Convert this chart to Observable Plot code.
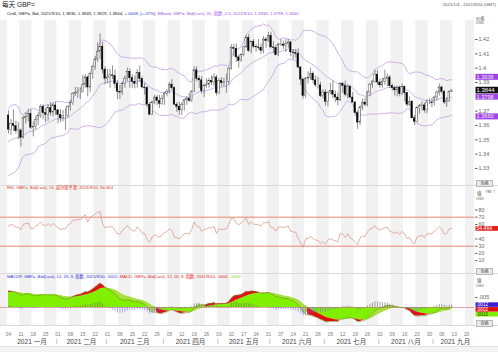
<!DOCTYPE html>
<html><head><meta charset="utf-8">
<script src="https://cdn.jsdelivr.net/npm/d3@7"></script>
<script src="https://cdn.jsdelivr.net/npm/@observablehq/plot@0.6"></script>
<style>
body{margin:0;background:#fff;}
#root{position:relative;width:498px;height:352px;overflow:hidden;background:#fff;font-family:"Liberation Sans","Noto Sans CJK SC",sans-serif;}
.t{position:absolute;white-space:nowrap;line-height:1;}
.btn{position:absolute;left:476px;width:15px;height:5px;background:#e9e9e9;border:0.5px solid #b8b8b8;font-size:4px;line-height:5px;text-align:center;color:#444;}
.sep{position:absolute;left:0;width:498px;height:1px;background:#dadada;}
</style></head><body><div id="root"></div>
<script>
const titleText = "每天 GBP=";
const rangeText = "2021/1/4 - 2021/9/24 (GMT)";
const monthNames = ["一月","二月","三月","四月","五月","六月","七月","八月","九月"];
const priceTicks = [1.33,1.34,1.35,1.36,1.37,1.38,1.39,1.4,1.41,1.42];
const rsiTicks = [10,20,30,40,50,60,70,80];
const rsiUpper = 70, rsiLower = 30;
const macdTicks = [0.005];
const lastPrice = 1.3844;
const lastBands = [1.3936,1.3798,1.3660];
const lastRsi = 54.464;
const lastMacd = [0.0012,0.0002,0.0010];

// closes before the window (Oct 1 - Dec 31 2020), used to warm up indicators
const prior2020Close = [
1.2925,1.2935,1.2945,1.2935,1.2945,1.2950,1.3045,1.3040,1.2930,1.3040,1.2915,1.2915,1.2945,1.3050,1.3160,1.3065,1.3045,1.3035,1.3030,1.2965,1.2935,1.2945,
1.2945,1.3050,1.2990,1.3150,1.3150,1.3190,1.3270,1.3260,1.3125,1.3190,1.3190,1.3250,1.3250,1.3270,1.3285,1.3320,1.3350,1.3365,1.3340,1.3320,1.3340,
1.3390,1.3360,1.3470,1.3440,1.3385,1.3365,1.3355,1.3285,1.3230,1.3320,1.3450,1.3540,1.3580,1.3510,1.3445,1.3385,1.3495,1.3550,1.3550,1.3480,1.3500,1.3665,1.3670];

// [day, open, high, low, close]
const jan = [[4,1.3670,1.3703,1.3540,1.3570],[5,1.3570,1.3640,1.3530,1.3610],[6,1.3610,1.3710,1.3560,1.3595],[7,1.3595,1.3630,1.3540,1.3560],[8,1.3560,1.3620,1.3500,1.3565],
[11,1.3565,1.3575,1.3450,1.3515],[12,1.3515,1.3665,1.3505,1.3650],[13,1.3650,1.3690,1.3610,1.3660],[14,1.3660,1.3710,1.3625,1.3680],[15,1.3680,1.3710,1.3570,1.3585],
[18,1.3585,1.3625,1.3520,1.3590],[19,1.3590,1.3665,1.3570,1.3640],[20,1.3640,1.3690,1.3600,1.3665],[21,1.3665,1.3745,1.3650,1.3730],[22,1.3730,1.3745,1.3640,1.3685],
[25,1.3685,1.3720,1.3620,1.3675],[26,1.3675,1.3745,1.3630,1.3720],[27,1.3720,1.3760,1.3665,1.3690],[28,1.3690,1.3755,1.3660,1.3740],[29,1.3740,1.3760,1.3670,1.3705]];
const feb = [[1,1.3705,1.3715,1.3610,1.3675],[2,1.3675,1.3710,1.3620,1.3650],[3,1.3650,1.3705,1.3625,1.3665],[4,1.3665,1.3720,1.3565,1.3665],[5,1.3665,1.3740,1.3650,1.3730],
[8,1.3730,1.3775,1.3700,1.3755],[9,1.3755,1.3830,1.3740,1.3820],[10,1.3820,1.3865,1.3805,1.3825],[11,1.3825,1.3865,1.3790,1.3830],[12,1.3830,1.3865,1.3780,1.3830],
[15,1.3830,1.3950,1.3830,1.3885],[16,1.3885,1.3955,1.3860,1.3935],[17,1.3935,1.3945,1.3800,1.3865],[18,1.3865,1.3965,1.3830,1.3960],[19,1.3960,1.4015,1.3920,1.4010],
[22,1.4010,1.4080,1.3985,1.4060],[23,1.4060,1.4175,1.4040,1.4115],[24,1.4115,1.4240,1.4060,1.4150],[25,1.4150,1.4180,1.3960,1.3990],[26,1.3990,1.4010,1.3885,1.3925]];
const mar = [[1,1.3925,1.3990,1.3890,1.3935],[2,1.3935,1.3990,1.3860,1.3950],[3,1.3950,1.4015,1.3920,1.3945],[4,1.3945,1.3985,1.3855,1.3890],[5,1.3890,1.3915,1.3780,1.3835],
[8,1.3835,1.3880,1.3780,1.3830],[9,1.3830,1.3905,1.3810,1.3890],[10,1.3890,1.3945,1.3860,1.3925],[11,1.3925,1.4000,1.3905,1.3975],[12,1.3975,1.3995,1.3860,1.3930],
[15,1.3930,1.3955,1.3860,1.3905],[16,1.3905,1.3945,1.3855,1.3890],[17,1.3890,1.3990,1.3860,1.3965],[18,1.3965,1.4015,1.3900,1.3925],[19,1.3925,1.3940,1.3855,1.3865],
[22,1.3865,1.3895,1.3810,1.3860],[23,1.3860,1.3870,1.3730,1.3745],[24,1.3745,1.3760,1.3670,1.3675],[25,1.3675,1.3770,1.3670,1.3760],[26,1.3760,1.3810,1.3745,1.3795],
[29,1.3795,1.3810,1.3740,1.3770],[30,1.3770,1.3810,1.3720,1.3750],[31,1.3750,1.3810,1.3740,1.3785]];
const apr = [[1,1.3785,1.3830,1.3740,1.3820],[2,1.3820,1.3850,1.3800,1.3835],
[5,1.3835,1.3900,1.3820,1.3885],[6,1.3885,1.3920,1.3840,1.3860],[7,1.3860,1.3870,1.3740,1.3745],[8,1.3745,1.3760,1.3690,1.3730],[9,1.3730,1.3760,1.3670,1.3705],
[12,1.3705,1.3760,1.3670,1.3745],[13,1.3745,1.3785,1.3700,1.3775],[14,1.3775,1.3800,1.3740,1.3785],[15,1.3785,1.3825,1.3760,1.3770],[16,1.3770,1.3845,1.3760,1.3835],
[19,1.3835,1.4010,1.3830,1.3985],[20,1.3985,1.4010,1.3905,1.3925],[21,1.3925,1.3945,1.3860,1.3915],[22,1.3915,1.3940,1.3820,1.3840],[23,1.3840,1.3890,1.3795,1.3875],
[26,1.3875,1.3925,1.3860,1.3885],[27,1.3885,1.3930,1.3860,1.3910],[28,1.3910,1.3945,1.3880,1.3900],[29,1.3900,1.3960,1.3870,1.3935],[30,1.3935,1.3950,1.3805,1.3825]];
const may = [[3,1.3825,1.3925,1.3815,1.3910],[4,1.3910,1.3935,1.3870,1.3895],[5,1.3895,1.3930,1.3870,1.3905],[6,1.3905,1.3960,1.3825,1.3905],[7,1.3905,1.4010,1.3880,1.3995],
[10,1.3995,1.4165,1.3985,1.4140],[11,1.4140,1.4165,1.4080,1.4135],[12,1.4135,1.4170,1.4040,1.4075],[13,1.4075,1.4090,1.4000,1.4050],[14,1.4050,1.4100,1.4040,1.4090],
[17,1.4090,1.4150,1.4080,1.4145],[18,1.4145,1.4230,1.4140,1.4210],[19,1.4210,1.4235,1.4110,1.4120],[20,1.4120,1.4190,1.4100,1.4185],[21,1.4185,1.4200,1.4135,1.4150],
[24,1.4150,1.4165,1.4110,1.4145],[25,1.4145,1.4200,1.4125,1.4140],[26,1.4140,1.4170,1.4095,1.4120],[27,1.4120,1.4220,1.4100,1.4200],[28,1.4200,1.4215,1.4140,1.4190],
[31,1.4190,1.4250,1.4180,1.4225]];
const jun = [[1,1.4225,1.4250,1.4135,1.4145],[2,1.4145,1.4185,1.4105,1.4140],[3,1.4140,1.4160,1.4085,1.4090],[4,1.4090,1.4175,1.4080,1.4160],
[7,1.4160,1.4200,1.4150,1.4165],[8,1.4165,1.4190,1.4130,1.4155],[9,1.4155,1.4200,1.4110,1.4170],[10,1.4170,1.4200,1.4135,1.4180],[11,1.4180,1.4185,1.4080,1.4110],
[14,1.4110,1.4130,1.4060,1.4105],[15,1.4105,1.4130,1.4070,1.4100],[16,1.4100,1.4135,1.3995,1.4005],[17,1.4005,1.4010,1.3880,1.3920],[18,1.3920,1.3930,1.3785,1.3805],
[21,1.3805,1.3935,1.3790,1.3925],[22,1.3925,1.3975,1.3890,1.3930],[23,1.3930,1.4000,1.3915,1.3960],[24,1.3960,1.3975,1.3890,1.3915],[25,1.3915,1.3945,1.3865,1.3880],
[28,1.3880,1.3935,1.3855,1.3880],[29,1.3880,1.3900,1.3795,1.3805],[30,1.3805,1.3850,1.3785,1.3830]];
const jul = [[1,1.3830,1.3850,1.3735,1.3765],[2,1.3765,1.3835,1.3730,1.3825],
[5,1.3825,1.3895,1.3815,1.3840],[6,1.3840,1.3910,1.3785,1.3815],[7,1.3815,1.3840,1.3760,1.3795],[8,1.3795,1.3825,1.3735,1.3775],[9,1.3775,1.3900,1.3765,1.3890],
[12,1.3890,1.3900,1.3825,1.3875],[13,1.3875,1.3910,1.3800,1.3815],[14,1.3815,1.3885,1.3785,1.3870],[15,1.3870,1.3880,1.3785,1.3795],[16,1.3795,1.3830,1.3760,1.3760],
[19,1.3760,1.3770,1.3665,1.3685],[20,1.3685,1.3700,1.3572,1.3620],[21,1.3620,1.3740,1.3600,1.3725],[22,1.3725,1.3785,1.3700,1.3760],[23,1.3760,1.3790,1.3730,1.3745],
[26,1.3745,1.3840,1.3730,1.3830],[27,1.3830,1.3895,1.3800,1.3885],[28,1.3885,1.3915,1.3860,1.3905],[29,1.3905,1.3985,1.3895,1.3955],[30,1.3955,1.3985,1.3880,1.3900]];
const aug = [[2,1.3900,1.3925,1.3860,1.3880],[3,1.3880,1.3930,1.3860,1.3905],[4,1.3905,1.3985,1.3880,1.3925],[5,1.3925,1.3960,1.3870,1.3935],[6,1.3935,1.3950,1.3860,1.3875],
[9,1.3875,1.3890,1.3840,1.3860],[10,1.3860,1.3875,1.3805,1.3845],[11,1.3845,1.3875,1.3800,1.3865],[12,1.3865,1.3875,1.3800,1.3820],[13,1.3820,1.3890,1.3810,1.3870],
[16,1.3870,1.3875,1.3765,1.3825],[17,1.3825,1.3830,1.3730,1.3745],[18,1.3745,1.3800,1.3730,1.3765],[19,1.3765,1.3775,1.3645,1.3650],[20,1.3650,1.3670,1.3600,1.3625],
[23,1.3625,1.3730,1.3620,1.3720],[24,1.3720,1.3745,1.3680,1.3735],[25,1.3735,1.3765,1.3700,1.3740],[26,1.3740,1.3755,1.3685,1.3705],[27,1.3705,1.3780,1.3680,1.3760],
[30,1.3760,1.3785,1.3745,1.3760],[31,1.3760,1.3790,1.3725,1.3755]];
const sep = [[1,1.3755,1.3805,1.3735,1.3795],[2,1.3795,1.3840,1.3770,1.3830],[3,1.3830,1.3890,1.3805,1.3865],
[6,1.3865,1.3875,1.3820,1.3835],[7,1.3835,1.3845,1.3745,1.3760],[8,1.3760,1.3795,1.3725,1.3770],[9,1.3770,1.3840,1.3760,1.3835],[10,1.3836,1.3849,1.3829,1.3844]];

const FONT = '"Liberation Sans","Noto Sans CJK SC",sans-serif';
const JAN4 = Date.UTC(2021,0,4);
const slotOfDate = t => { const days = Math.round((t - JAN4)/864e5); return Math.floor(days/7)*5 + (days%7); };
const dateOfSlot = s => new Date(JAN4 + (Math.floor(s/5)*7 + s%5)*864e5);
const rows = [];
[jan,feb,mar,apr,may,jun,jul,aug,sep].forEach((arr,m) => arr.forEach(([d,o,h,l,c]) =>
  rows.push({slot: slotOfDate(Date.UTC(2021,m,d)), o, h, l, c})));

// indicators (as named in the legends: exponential BBand 20/2.0, Wilder RSI 14, MACD 12/26/9)
const cl = prior2020Close.concat(rows.map(r => r.c));
const N0 = prior2020Close.length;
function ema(a, n){ const k = 2/(n+1); const out = []; let e = a[0]; a.forEach((v,i) => { e = i ? v*k + e*(1-k) : v; out.push(e); }); return out; }
const mid = ema(cl, 20);
const e12 = ema(cl, 12), e26 = ema(cl, 26);
const macdAll = e12.map((v,i) => v - e26[i]);
const sigAll = ema(macdAll, 9);
function rsiW(a, n){ const out = a.map(() => NaN); let g=0,l=0;
  for (let i=1;i<=n;i++){ const d=a[i]-a[i-1]; if(d>0) g+=d; else l-=d; } g/=n; l/=n; out[n]=100-100/(1+g/l);
  for (let i=n+1;i<a.length;i++){ const d=a[i]-a[i-1]; g=(g*(n-1)+Math.max(d,0))/n; l=(l*(n-1)+Math.max(-d,0))/n; out[i]=100-100/(1+g/l); }
  return out; }
const rsiAll = rsiW(cl, 14);
const ind = rows.map((r,j) => {
  const i = N0 + j; const w = cl.slice(i-19, i+1); const m = d3.mean(w);
  const sd = Math.sqrt(d3.mean(w, v => (v-m)**2));
  return {slot: r.slot, mid: mid[i], up: mid[i]+2*sd, lo: mid[i]-2*sd, rsi: rsiAll[i], macd: macdAll[i], sig: sigAll[i], hist: macdAll[i]-sigAll[i]};
});

const root = document.getElementById("root");
const X0 = -3.23, X1 = 188.2;
const stripeWeeks = d3.range(-1, 38, 2);
const stripes = () => Plot.rect(stripeWeeks, {x1: k => Math.max(k*5-0.5, X0), x2: k => Math.min(k*5+4.5, X1), fill: "#f1f1f1"});
const base = (h) => ({width: 498, height: h, marginLeft: 0, marginRight: 24, marginTop: 0, marginBottom: 0,
  x: {domain: [X0, X1], axis: null},
  style: {fontFamily: FONT, fontSize: "5.5px", color: "#666", background: "transparent", overflow: "visible"}});
function place(el, top){ el.style.position = "absolute"; el.style.left = "0px"; el.style.top = top + "px"; root.appendChild(el); }
function text(html, css){ const d = document.createElement("div"); d.className = "t"; d.innerHTML = html; Object.assign(d.style, css); root.appendChild(d); return d; }
function box(svg, y, fill, color, label, h=6, fs=5.6){
  const s = d3.select(svg);
  s.append("rect").attr("x", 475.5).attr("y", y - h/2).attr("width", 22.5).attr("height", h).attr("fill", fill);
  s.append("text").attr("x", 476.5).attr("y", y + fs*0.36).attr("text-anchor", "start").attr("fill", color)
    .attr("font-size", fs + "px").attr("font-family", FONT).text(label);
}
// tick labels hidden under a value box (as in the reference)
const visibleTicks = (ticks, scale, boxYs, gap) => ticks.filter(t => boxYs.every(b => Math.abs(scale(t) - b) > gap));

// main price panel
const up = rows.filter(r => r.c >= r.o), dn = rows.filter(r => r.c < r.o);
const mainH = 165;
const priceDomain = [1.42 - 146/1433, 1.42 + 19/1433];
const priceY = d3.scaleLinear(priceDomain, [mainH, 0]);
const main = Plot.plot({...base(mainH),
  y: {domain: priceDomain, axis: null},
  marks: [
    stripes(),
    Plot.line(ind, {x: "slot", y: "up", stroke: "#c3a0e2", strokeWidth: 0.8}),
    Plot.line(ind, {x: "slot", y: "mid", stroke: "#c3a0e2", strokeWidth: 0.8}),
    Plot.line(ind, {x: "slot", y: "lo", stroke: "#c3a0e2", strokeWidth: 0.8}),
    Plot.ruleX(rows, {x: "slot", y1: "l", y2: "h", stroke: "#222", strokeWidth: 0.5}),
    Plot.rect(up, {x1: d => d.slot-0.3, x2: d => d.slot+0.3, y1: "o", y2: "c", fill: "#fff", stroke: "#333", strokeWidth: 0.4}),
    Plot.rect(dn, {x1: d => d.slot-0.3, x2: d => d.slot+0.3, y1: "o", y2: "c", fill: "#000", stroke: "#000", strokeWidth: 0.4}),
    Plot.axisY(visibleTicks(priceTicks, priceY, [priceY(lastPrice), priceY(lastBands[1])], 4.5),
      {anchor: "right", tickSize: 2.5, tickPadding: 1.5, tickFormat: d => String(d)})
  ]});
place(main, 20);
{ const ys = main.scale("y");
  box(main, ys.apply(lastBands[0]), "#9f45e6", "#eee", lastBands[0].toFixed(4));
  box(main, ys.apply(lastBands[1]), "#9f45e6", "#eee", lastBands[1].toFixed(4));
  box(main, ys.apply(lastBands[2]), "#9f45e6", "#eee", lastBands[2].toFixed(4));
  box(main, ys.apply(lastPrice), "#111", "#fff", lastPrice.toFixed(4), 6.5, 5.9); }

// RSI panel
const rsiH = 87;
const rsiDomain = [70 - 56.3/0.725, 70 + 30.7/0.725];
const rsiY = d3.scaleLinear(rsiDomain, [rsiH, 0]);
const rsiPlot = Plot.plot({...base(rsiH),
  y: {domain: rsiDomain, axis: null},
  marks: [
    stripes(),
    Plot.ruleY([rsiUpper, rsiLower], {stroke: "#ea8672", strokeWidth: 1}),
    Plot.line(ind, {x: "slot", y: "rsi", stroke: "#d8917e", strokeWidth: 0.7}),
    Plot.axisY(visibleTicks(rsiTicks, rsiY, [rsiY(lastRsi)], 3.6), {anchor: "right", tickSize: 2.5, tickPadding: 1.5, fontSize: 5.2})
  ]});
place(rsiPlot, 186);
box(rsiPlot, rsiPlot.scale("y").apply(lastRsi) + 0.4, "#e0241c", "#fff", String(lastRsi), 4.8, 5.1);

// MACD panel
const macdH = 51;
const beyond = d => (d.macd - d.sig) * Math.sign(d.sig) > 0;
const pos = ind.filter(d => d.hist >= 0), neg = ind.filter(d => d.hist < 0);
const macdPlot = Plot.plot({...base(macdH),
  y: {domain: [-18/2000, 33/2000], axis: null},
  marks: [
    stripes(),
    Plot.areaY(ind, {x: "slot", y1: 0, y2: "sig", fill: "#80f000"}),
    Plot.areaY(ind, {x: "slot", y1: "sig", y2: d => beyond(d) ? d.macd : d.sig, fill: "#e01010"}),
    Plot.areaY(ind, {x: "slot", y1: "sig", y2: d => beyond(d) ? d.sig : d.macd, fill: "#a8e040"}),
    Plot.ruleY([0], {stroke: "#c87070", strokeWidth: 0.6}),
    Plot.line(ind, {x: "slot", y: "macd", stroke: "#6b8e23", strokeWidth: 0.6}),
    Plot.ruleX(pos, {x: "slot", y1: 0, y2: "hist", stroke: "#666", strokeWidth: 0.6}),
    Plot.ruleX(neg, {x: "slot", y1: 0, y2: "hist", stroke: "#7a6cf0", strokeWidth: 0.6}),
    Plot.axisY(macdTicks, {anchor: "right", tickSize: 2.5, tickPadding: 1.5, tickFormat: () => ".005"})
  ]});
place(macdPlot, 274);
{ const ys = macdPlot.scale("y"); const y0 = ys.apply(lastMacd[0]);
  box(macdPlot, y0, "#3d1fd0", "#fff", ".0012", 4.6, 4.6);
  box(macdPlot, y0 + 4.8, "#e01010", "#fff", ".0002", 4.6, 4.6);
  box(macdPlot, y0 + 9.6, "#80f000", "#333", ".0010", 4.6, 4.6); }

// date axis
const tickSlots = d3.range(0, 190, 5);
const allSlots = d3.range(0, 190);
const monthSpans = d3.groups(allSlots, s => dateOfSlot(s).getUTCMonth()).map(([m, ss]) =>
  ({m, first: ss[0], last: ss[ss.length-1], label: "2021 " + monthNames[m]}));
const axisPlot = Plot.plot({...base(21),
  marks: [
    Plot.text(tickSlots, {x: d => d, frameAnchor: "top", dy: 7.5, text: d => String(dateOfSlot(d).getUTCDate()).padStart(2, "0"), fill: "#777", fontSize: 4.8}),
    Plot.text(monthSpans, {x: d => (d.first + d.last)/2, frameAnchor: "top", dy: 13.5, text: "label", fill: "#444", fontSize: 6.6}),
    Plot.text(monthSpans.slice(1), {x: d => d.first - 0.5, frameAnchor: "top", dy: 13.5, text: () => "|", fill: "#888", fontSize: 6})
  ]});
place(axisPlot, 325);

[185, 273, 325].forEach(y => { const s = document.createElement("div"); s.className = "sep"; s.style.top = y + "px"; root.appendChild(s); });
const bottom = document.createElement("div");
Object.assign(bottom.style, {position: "absolute", left: "0px", top: "346px", width: "498px", height: "6px", background: "#f3f3f3", borderTop: "1px solid #e2e2e2"});
root.appendChild(bottom);

text(titleText, {left: "2px", top: "1.5px", fontSize: "6.6px", color: "#222"});
text(rangeText, {right: "2px", top: "3px", fontSize: "4.3px", color: "#555"});
text('<span style="color:#222">Cndl, GBP=, Bid, 2021/9/10, 1.3836, 1.3849, 1.3829, 1.3844, </span><span style="color:#2a2ad8">+.0009, (+.07%), </span><span style="color:#a455e0">BBand, GBP=, Bid(Last), 20, 指数, 2.0, 2021/9/10, 1.3936, 1.3798, 1.3660</span>',
  {left: "7px", top: "12px", fontSize: "4.3px"});
text("价格", {left: "476px", top: "16.5px", fontSize: "4.2px", color: "#444"});
text("USD", {left: "476px", top: "22px", fontSize: "3.8px", color: "#666"});
text('<span style="color:#e03020">RSI, GBP=, Bid(Last), 14, 威尔德平滑, 2021/9/10, 54.464</span>', {left: "7px", top: "186px", fontSize: "4.2px"});
text("值", {left: "477px", top: "191.5px", fontSize: "4.5px", color: "#444"});
text("USD", {left: "476px", top: "198px", fontSize: "3.8px", color: "#666"});
text('<span style="color:#2a2ad8">MACDP, GBP=, Bid(Last), 12, 26, 9, 指数, 2021/9/10, .0012, </span><span style="color:#e02020">MACD, GBP=, Bid(Last), 12, 26, 9, 指数, 2021/9/10, .0002, </span><span style="color:#70d000">.0010</span>',
  {left: "7px", top: "275px", fontSize: "4.2px"});
text("值", {left: "477px", top: "279px", fontSize: "4.5px", color: "#444"});
text("USD", {left: "476px", top: "285px", fontSize: "3.8px", color: "#666"});
[180, 268, 320].forEach(y => { const b = document.createElement("div"); b.className = "btn"; b.style.top = y + "px"; b.textContent = "百函"; root.appendChild(b); });
</script></body></html>
